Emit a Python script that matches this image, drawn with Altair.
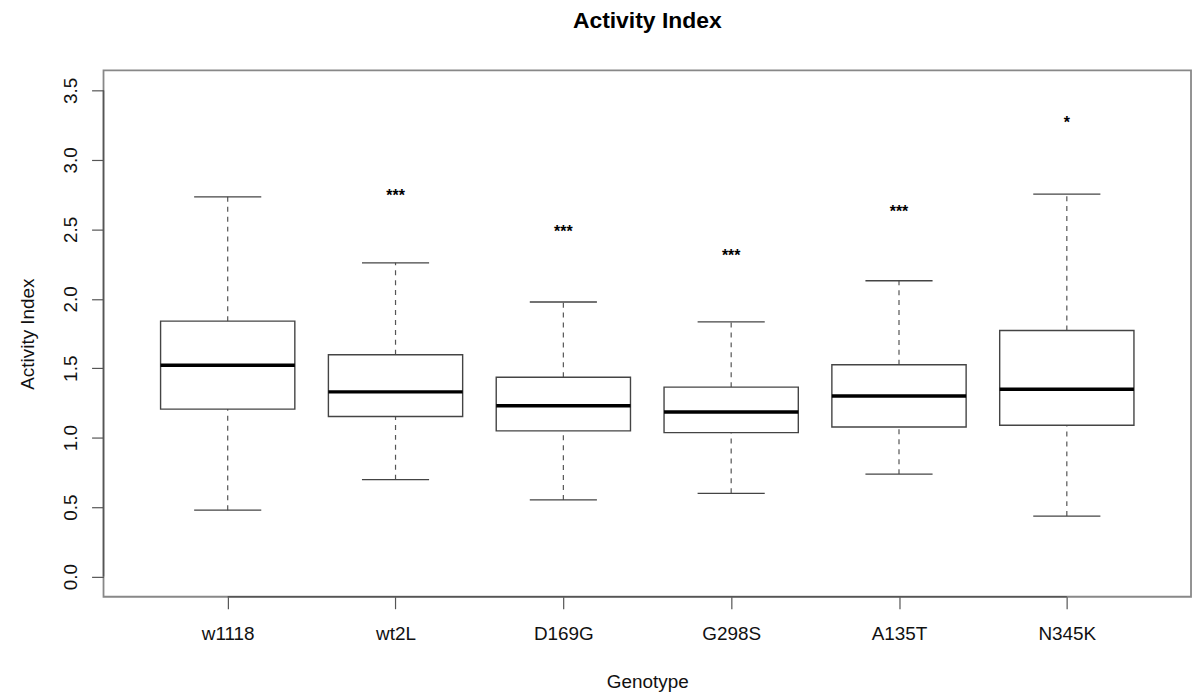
import altair as alt
import pandas as pd

genotypes = ["w1118", "wt2L", "D169G", "G298S", "A135T", "N345K"]
lower_whisker = [0.478, 0.698, 0.552, 0.600, 0.738, 0.436]
q1 = [1.206, 1.153, 1.049, 1.037, 1.077, 1.090]
median = [1.521, 1.330, 1.230, 1.185, 1.300, 1.349]
q3 = [1.839, 1.597, 1.435, 1.364, 1.525, 1.772]
upper_whisker = [2.734, 2.259, 1.977, 1.834, 2.130, 2.754]
stars = ["", "***", "***", "***", "***", "*"]
star_y = [None, 2.765, 2.507, 2.335, 2.655, 3.293]
y_ticks = [0.0, 0.5, 1.0, 1.5, 2.0, 2.5, 3.0, 3.5]

df = pd.DataFrame({
    "genotype": genotypes,
    "pos": list(range(1, len(genotypes) + 1)),
    "lower": lower_whisker,
    "q1": q1,
    "median": median,
    "q3": q3,
    "upper": upper_whisker,
    "stars": stars,
    "star_y": star_y,
})
ticks_df = pd.DataFrame({"t": y_ticks})

FONT = "Liberation Sans"
W, H = 1093, 529
label_expr = "[" + ",".join("'" + g + "'" for g in genotypes) + "][datum.value - 1]"

xscale = alt.Scale(domain=[0.26, 6.74], nice=False, zero=False)
yscale = alt.Scale(domain=[-0.145, 3.644], nice=False, zero=False)

x_axis = alt.Axis(
    values=list(range(1, len(genotypes) + 1)), labelExpr=label_expr,
    title="Genotype", grid=False, domain=False,
    tickSize=12, tickColor="#555555", tickWidth=1.2,
    labelFont=FONT, labelFontSize=19, labelColor="#111111",
    labelBaseline="alphabetic", labelPadding=31, labelAngle=0,
    titleFont=FONT, titleFontSize=19, titleFontWeight="normal", titleColor="#111111",
    titleBaseline="alphabetic", titleY=91, titleX=W / 2, titleAnchor="middle",
)
y_axis = alt.Axis(
    values=y_ticks, format=".1f", title="Activity Index", grid=False, domain=False,
    tickSize=12, tickColor="#555555", tickWidth=1.2,
    labelFont=FONT, labelFontSize=19, labelColor="#111111",
    labelAngle=-90, labelAlign="center", labelBaseline="alphabetic", labelPadding=15,
    titleFont=FONT, titleFontSize=19, titleFontWeight="normal", titleColor="#111111",
    titleAngle=-90, titleBaseline="alphabetic", titleAlign="center",
    titleX=-70, titleY=H / 2,
)

def X(field):
    return alt.X(field, scale=xscale, axis=x_axis)

def Y(field):
    return alt.Y(field, scale=yscale, axis=y_axis)

base = alt.Chart(df).transform_calculate(
    left="datum.pos - 0.4", right="datum.pos + 0.4",
    capl="datum.pos - 0.2", capr="datum.pos + 0.2",
)

whisk_up = base.mark_rule(color="#555555", strokeWidth=1.2, strokeDash=[5, 5]).encode(
    x=X("pos:Q"), y=Y("q3:Q"), y2="upper:Q",
)
whisk_dn = base.mark_rule(color="#555555", strokeWidth=1.2, strokeDash=[5, 5]).encode(
    x=X("pos:Q"), y=Y("lower:Q"), y2="q1:Q",
)
cap_up = base.mark_rule(color="#444444", strokeWidth=1.3).encode(
    x=X("capl:Q"), x2="capr:Q", y=Y("upper:Q"),
)
cap_dn = base.mark_rule(color="#444444", strokeWidth=1.3).encode(
    x=X("capl:Q"), x2="capr:Q", y=Y("lower:Q"),
)
box = base.mark_rect(fill="white", stroke="#444444", strokeWidth=1.4).encode(
    x=X("left:Q"), x2="right:Q", y=Y("q1:Q"), y2="q3:Q",
)
med = base.mark_rule(color="#000000", strokeWidth=3.5).encode(
    x=X("left:Q"), x2="right:Q", y=Y("median:Q"),
)
star_txt = base.transform_filter("datum.stars != ''").mark_text(
    font=FONT, fontSize=16, fontWeight="bold", color="#000000",
    baseline="alphabetic", align="center", dy=9,
).encode(
    x=X("pos:Q"), y=Y("star_y:Q"), text="stars:N",
)
x_line = alt.Chart(df).transform_aggregate(lo="min(pos)", hi="max(pos)").mark_rule(
    color="#555555", strokeWidth=1.5
).encode(
    x=X("lo:Q"), x2="hi:Q", y=alt.value(H),
)
y_line = alt.Chart(ticks_df).transform_aggregate(lo="min(t)", hi="max(t)").mark_rule(
    color="#555555", strokeWidth=1.5
).encode(
    y=Y("lo:Q"), y2="hi:Q", x=alt.value(0),
)

chart = alt.layer(
    whisk_up, whisk_dn, cap_up, cap_dn, box, med, star_txt, x_line, y_line
).properties(
    width=W, height=H,
    background="white",
    title=alt.TitleParams(
        "Activity Index", font=FONT, fontSize=23, fontWeight="bold", color="#000000",
        anchor="middle", baseline="alphabetic", frame="group", offset=20,
    ),
    autosize=alt.AutoSizeParams(type="none"),
    padding={"left": 96, "top": 61, "right": 2, "bottom": 100},
).configure_view(
    stroke="#888888", strokeWidth=1.8
)

chart.save("out.html", embed_options={"renderer": "svg", "actions": False})
